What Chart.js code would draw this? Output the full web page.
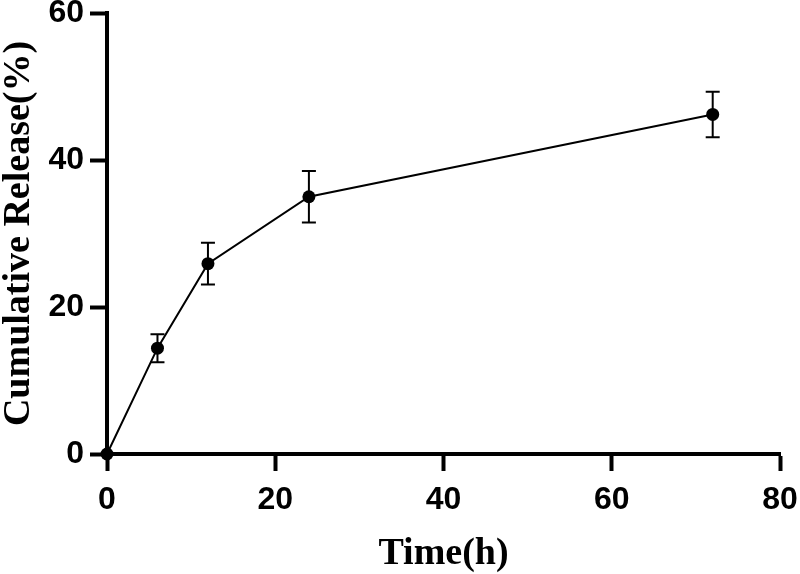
<!DOCTYPE html>
<html>
<head>
<meta charset="utf-8">
<script src="https://cdn.jsdelivr.net/npm/chart.js@4/dist/chart.umd.min.js"></script>
<style>
  html, body { margin: 0; padding: 0; background: #fff; }
  #wrap { width: 800px; height: 574px; }
</style>
</head>
<body>
<div id="wrap"><canvas id="releaseChart" width="800" height="574"></canvas></div>
<script>
// release profile
var timeH   = [0, 6, 12, 24, 72];
var release = [0, 14.4, 25.9, 35.0, 46.2];
var sd      = [0, 1.9, 2.85, 3.5, 3.1];
var xTicks  = [0, 20, 40, 60, 80];
var yTicks  = [0, 20, 40, 60];

var points = timeH.map(function(t, i) { return { x: t, y: release[i] }; });

// vertical error bars with caps, placed through the chart scales
var errorBars = {
  id: 'errorBars',
  afterDatasetsDraw: function(chart) {
    var ctx = chart.ctx;
    var xs = chart.scales.x, ys = chart.scales.y;
    ctx.save();
    ctx.strokeStyle = '#000';
    ctx.lineWidth = 2;
    for (var i = 0; i < timeH.length; i++) {
      if (!sd[i]) continue;
      var px = xs.getPixelForValue(timeH[i]);
      var top = ys.getPixelForValue(release[i] + sd[i]);
      var bot = ys.getPixelForValue(release[i] - sd[i]);
      ctx.beginPath();
      ctx.moveTo(px, top); ctx.lineTo(px, bot);
      ctx.moveTo(px - 7, top); ctx.lineTo(px + 7, top);
      ctx.moveTo(px - 7, bot); ctx.lineTo(px + 7, bot);
      ctx.stroke();
    }
    ctx.restore();
  }
};

var tickFont  = { family: '"Liberation Sans", Arial, sans-serif', size: 32, weight: 'bold' };
var titleFont = { family: '"Liberation Serif", "Times New Roman", serif', size: 38, weight: 'bold', lineHeight: 1 };

var Cnvs = document.getElementById('releaseChart');
var releaseChart = new Chart(Cnvs, {
  type: 'scatter',
  data: {
    datasets: [{
      data: points,
      showLine: true,
      borderColor: '#000',
      borderWidth: 2,
      backgroundColor: '#000',
      pointRadius: 6.5,
      pointBorderWidth: 0,
      clip: false
    }]
  },
  options: {
    responsive: false,
    animation: false,
    layout: { padding: { top: 13, right: 20, left: 0, bottom: 0 } },
    plugins: { legend: { display: false }, tooltip: { enabled: false } },
    scales: {
      x: {
        type: 'linear',
        min: 0, max: 80,
        afterBuildTicks: function(s) { s.ticks = xTicks.map(function(v) { return { value: v }; }); },
        afterFit: function(s) { s.height = 120; s.paddingLeft = 0; s.paddingRight = 0; },
        grid: { drawOnChartArea: false, drawTicks: true, tickLength: 17, tickWidth: 4, tickColor: '#000' },
        border: { display: true, width: 4, color: '#000' },
        ticks: { color: '#000', font: tickFont, padding: 10, maxRotation: 0 },
        title: { display: true, text: 'Time(h)', color: '#000', font: titleFont, padding: { top: 0, bottom: 1 } }
      },
      y: {
        type: 'linear',
        min: 0, max: 60,
        afterBuildTicks: function(s) { s.ticks = yTicks.map(function(v) { return { value: v }; }); },
        afterFit: function(s) { s.width = 107; s.paddingTop = 0; s.paddingBottom = 0; },
        grid: { drawOnChartArea: false, drawTicks: true, tickLength: 17, tickWidth: 4, tickColor: '#000' },
        border: { display: true, width: 4, color: '#000' },
        ticks: { color: '#000', font: tickFont, padding: 6 },
        title: { display: true, text: 'Cumulative Release(%)', color: '#000', font: titleFont, padding: { top: 0, bottom: 0 } }
      }
    }
  },
  plugins: [errorBars]
});
</script>
</body>
</html>
